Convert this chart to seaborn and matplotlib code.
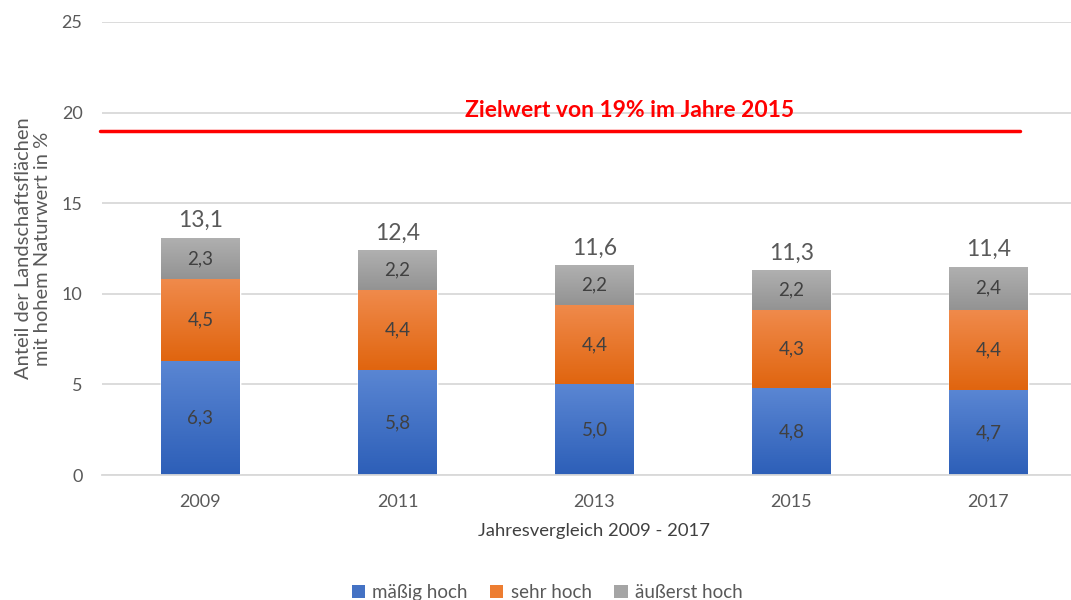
import numpy as np
import pandas as pd
import seaborn as sns
import matplotlib.pyplot as plt
from matplotlib.colors import LinearSegmentedColormap, to_rgb
from matplotlib.patches import Patch

years = ["2009", "2011", "2013", "2015", "2017"]
maessig = [6.3, 5.8, 5.0, 4.8, 4.7]
sehr = [4.5, 4.4, 4.4, 4.3, 4.4]
aeusserst = [2.3, 2.2, 2.2, 2.2, 2.4]
totals = [13.1, 12.4, 11.6, 11.3, 11.4]
series_names = ["mäßig hoch", "sehr hoch", "äußerst hoch"]
target = 19
target_label = "Zielwert von 19% im Jahre 2015"

sns.set_theme(style="white")
plt.rcParams["font.family"] = ["Lato", "DejaVu Sans"]

df = pd.DataFrame({"Jahr": years, "m": maessig, "s": sehr, "a": aeusserst})
df["ms"] = df["m"] + df["s"]
df["msa"] = df["ms"] + df["a"]

fig = plt.figure(figsize=(10.71, 6), dpi=100)
ax = fig.add_axes([102 / 1071, 125 / 600, 985 / 1071, 453 / 600])

# colour pairs: top (light) -> bottom (dark)
grads = {
    "a": ("#b0b0b0", "#939393"),
    "s": ("#f08a4b", "#e0650f"),
    "m": ("#5a86d3", "#2d5fb8"),
}

# stacked by overlapping cumulative bars
layers = [("msa", "a"), ("ms", "s"), ("m", "m")]
for col, key in layers:
    sns.barplot(data=df, x="Jahr", y=col, color=grads[key][0], width=0.40,
                saturation=1, ax=ax, errorbar=None, zorder=2)

# vertical gradients clipped to each bar
for i, p in enumerate(ax.patches):
    key = layers[i // len(years)][1]
    top, bot = grads[key]
    cmap = LinearSegmentedColormap.from_list("g", [to_rgb(bot), to_rgb(top)])
    x0, y0 = p.get_x(), p.get_y()
    w, h = p.get_width(), p.get_height()
    # only the visible segment gets shaded
    if key == "a":
        lo = df["ms"].iloc[i % 5]
    elif key == "s":
        lo = df["m"].iloc[i % 5]
    else:
        lo = 0
    grad = np.linspace(0, 1, 100).reshape(-1, 1)
    im = ax.imshow(grad, cmap=cmap, origin="lower", aspect="auto",
                   extent=[x0, x0 + w, lo, y0 + h], zorder=2 + i * 0.01)
    im.set_clip_path(p)

ax.set_xlim(-0.5, 4.5)
ax.set_ylim(0, 25)
ax.set_yticks([0, 5, 10, 15, 20, 25])
ax.yaxis.grid(True, color="#d9d9d9", linewidth=1.3)
ax.set_axisbelow(True)
for s in ["top", "right", "left"]:
    ax.spines[s].set_visible(False)
ax.spines["bottom"].set_color("#d9d9d9")
ax.spines["bottom"].set_linewidth(1.3)
ax.tick_params(axis="both", length=0, labelsize=13, labelcolor="#595959")
ax.tick_params(axis="y", pad=14)
ax.tick_params(axis="x", pad=14)

ax.set_xlabel("Jahresvergleich 2009 - 2017", fontsize=13.3, color="#404040", labelpad=9)
ax.set_ylabel("Anteil der Landschaftsflächen\nmit hohem Naturwert in %",
              fontsize=14.5, color="#595959", labelpad=8, linespacing=1.1)

# segment labels
for i in range(len(years)):
    m, s, a = maessig[i], sehr[i], aeusserst[i]
    for val, mid in [(m, m / 2), (s, m + s / 2), (a, m + s + a / 2)]:
        ax.text(i, mid, f"{val:.1f}".replace(".", ","), ha="center", va="center",
                fontsize=13.5, color="#404040", zorder=5)
    ax.text(i, df["msa"].iloc[i] + 0.35, f"{totals[i]:.1f}".replace(".", ","),
            ha="center", va="bottom", fontsize=16.5, color="#595959", zorder=5)

# target line
ax.plot([-0.51, 4.16], [target, target], color="#ff0000", linewidth=2.5, zorder=4,
        clip_on=False)
ax.text(2.18, target + 0.55, target_label, ha="center", va="bottom",
        fontsize=16.5, fontweight="bold", color="#ff0000", zorder=5)

handles = [Patch(facecolor=c, edgecolor="none") for c in
           ("#4472c4", "#ed7d31", "#a5a5a5")]
fig.legend(handles, series_names, loc="center", bbox_to_anchor=(0.511, 0.012),
           ncol=3, frameon=False, fontsize=13.5, labelcolor="#595959",
           handlelength=0.7, handleheight=0.7, columnspacing=1.2, handletextpad=0.4)

fig.savefig("out.png", dpi=100)
